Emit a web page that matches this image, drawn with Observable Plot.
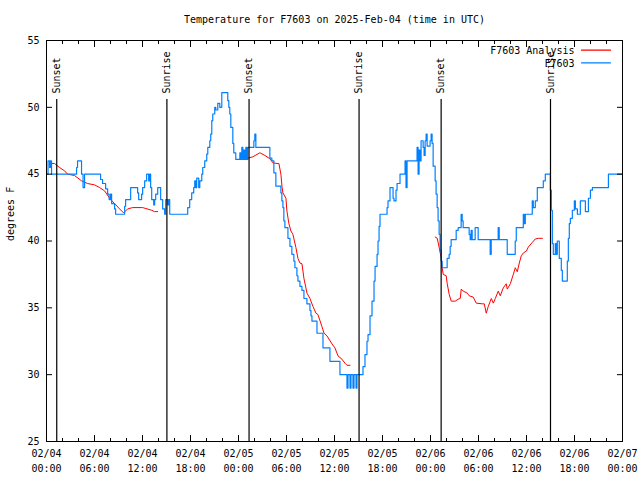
<!DOCTYPE html>
<html>
<head>
<meta charset="utf-8">
<script src="https://cdn.jsdelivr.net/npm/d3@7"></script>
<script src="https://cdn.jsdelivr.net/npm/@observablehq/plot@0.6"></script>
<style>
  body { margin: 0; background: #fff; }
  svg { display: block; }
</style>
</head>
<body>
<div id="chart"></div>
<script>
// ---- Text ----
const title = "Temperature for F7603 on 2025-Feb-04 (time in UTC)";
const yLabel = "degrees F";
const legendLabels = ["F7603 Analysis", "F7603"];
const seriesColors = ["#ff0000", "#0080ff"];

// ---- Time base (hours since 2025-02-04 00:00 UTC) ----
const startUTC = Date.UTC(2025, 1, 4);
const spanHours = 72;

// ---- Sunset / sunrise markers ----
const sunHours = [1.28, 15.05, 25.32, 39.07, 49.33, 63.0];
const sunLabels = ["Sunset", "Sunrise", "Sunset", "Sunrise", "Sunset", "Sunrise"];

// ---- Y ticks ----
const yTicks = [25, 30, 35, 40, 45, 50, 55];

// ---- Observations F7603: [hour, temp F] (held until next reading) ----
const obsReadings = [
  [0, 45.0], [0.19, 46.0], [0.38, 45.5], [0.50, 46.0], [0.63, 45.0], [3.76, 45.5], [3.88, 46.0],
  [4.38, 45.0], [4.57, 44.0], [4.76, 45.0], [6.76, 44.6], [7.01, 44.3], [7.39, 43.9], [7.64, 43.5],
  [7.83, 43.1], [8.01, 43.5], [8.14, 42.8], [8.51, 42.4], [8.64, 42.0], [9.77, 42.6], [9.89, 43.1],
  [10.52, 44.0], [11.39, 43.6], [11.52, 43.1], [11.89, 43.5], [12.02, 44.0], [12.27, 44.5], [12.52, 45.0],
  [12.77, 44.5], [12.90, 45.0], [13.02, 44.0], [13.15, 43.1], [13.40, 42.7], [13.52, 43.1], [13.65, 43.5],
  [13.90, 44.0], [14.27, 43.1], [14.52, 42.4], [14.77, 42.0], [14.90, 43.1], [15.15, 42.7], [15.27, 43.1],
  [15.40, 42.0], [17.65, 42.5], [17.90, 43.1], [18.15, 43.6], [18.40, 44.0], [18.53, 44.5], [18.65, 44.0],
  [18.78, 44.7], [19.03, 44.0], [19.16, 44.5], [19.41, 45.0], [19.53, 45.5], [19.78, 46.0], [20.03, 46.5],
  [20.16, 47.0], [20.41, 47.5], [20.53, 48.0], [20.66, 49.0], [20.78, 49.5], [21.03, 50.0], [21.16, 49.8],
  [21.41, 50.3], [21.66, 50.0], [21.91, 51.1], [22.66, 50.5], [22.79, 50.0], [22.91, 49.5], [23.04, 48.5],
  [23.29, 47.3], [23.41, 46.6], [23.66, 46.1], [24.17, 46.6], [24.29, 46.1], [24.42, 47.0], [24.54, 46.1],
  [24.67, 46.8], [24.79, 46.1], [24.92, 47.0], [25.04, 46.1], [25.17, 47.0], [25.92, 47.5], [26.04, 48.0],
  [26.17, 47.0], [27.92, 46.2], [28.17, 46.0], [28.42, 45.1], [28.67, 44.1], [29.30, 43.6], [29.42, 43.0],
  [29.55, 42.5], [29.67, 41.5], [29.80, 41.0], [30.18, 40.2], [30.43, 39.6], [30.67, 39.0], [30.92, 38.5],
  [31.05, 38.0], [31.30, 37.4], [31.43, 37.0], [31.68, 36.6], [31.93, 36.3], [32.18, 35.7], [32.55, 35.3],
  [32.93, 34.8], [33.06, 34.4], [33.18, 34.0], [33.81, 33.1], [34.56, 32.0], [35.43, 31.0], [36.68, 30.0],
  [37.56, 29.0], [37.69, 30.0], [37.94, 29.0], [38.06, 30.0], [38.31, 29.0], [38.44, 30.0], [38.69, 29.0],
  [38.81, 30.0], [39.56, 30.6], [39.81, 31.5], [40.06, 32.5], [40.19, 33.0], [40.44, 34.4], [40.69, 35.5],
  [40.94, 37.0], [41.07, 38.1], [41.32, 39.0], [41.44, 40.0], [41.57, 41.1], [41.69, 42.0], [42.57, 42.5],
  [42.69, 43.0], [42.94, 44.0], [43.32, 43.2], [43.44, 43.0], [43.69, 43.8], [43.82, 44.3], [44.19, 45.0],
  [44.82, 46.0], [44.94, 44.0], [45.07, 46.0], [46.32, 47.0], [46.45, 45.0], [46.57, 46.8], [46.70, 46.0],
  [46.82, 47.5], [47.08, 47.0], [47.20, 46.4], [47.33, 47.5], [47.45, 48.0], [47.58, 47.1], [47.95, 47.5],
  [48.08, 48.0], [48.20, 47.3], [48.33, 45.6], [48.58, 44.5], [48.70, 43.5], [48.83, 42.5], [48.95, 41.5],
  [49.08, 40.5], [49.20, 39.3], [49.33, 38.5], [49.45, 38.0], [50.08, 38.7], [50.33, 39.0], [50.46, 39.6],
  [50.58, 40.1], [51.21, 40.8], [51.46, 41.0], [51.83, 42.0], [51.96, 41.5], [52.08, 41.0], [52.83, 40.5],
  [52.96, 40.1], [53.08, 40.8], [53.21, 40.1], [53.58, 41.0], [53.96, 40.1], [55.46, 39.0], [55.59, 40.1],
  [56.46, 41.0], [56.59, 40.1], [57.59, 39.0], [58.59, 40.0], [58.72, 41.0], [59.60, 42.0], [59.72, 41.3],
  [59.85, 42.0], [60.72, 43.0], [60.85, 42.5], [61.10, 43.0], [61.35, 44.0], [62.10, 44.5], [62.35, 45.0],
  [62.98, 43.8], [63.10, 42.3], [63.23, 39.8], [63.35, 39.0], [63.60, 39.8], [63.73, 39.0], [63.85, 40.0],
  [64.10, 38.7], [64.35, 37.8], [64.48, 37.0], [65.10, 38.5], [65.23, 40.2], [65.35, 41.3], [65.48, 41.7],
  [65.73, 42.3], [65.98, 43.0], [66.11, 42.4], [66.36, 42.0], [66.73, 43.0], [67.36, 42.2], [67.74, 43.2],
  [67.99, 43.8], [68.24, 44.0], [70.24, 45.0], [72.00, 45.0]
];

// ---- F7603 Analysis: three runs (hours, temps) ----
const ana1Hours = [0.63, 1.0, 1.63, 2.25, 2.63, 3.5, 4.38, 5.13, 6.0, 6.64, 7.26, 7.89, 8.5, 9.14, 9.64, 10.14, 10.77, 12.02, 13.15, 13.5, 13.9];
const ana1Temps = [45.8, 45.8, 45.5, 45.25, 45.0, 44.9, 44.5, 44.3, 44.2, 44.0, 43.75, 43.2, 42.8, 42.4, 42.1, 42.4, 42.5, 42.5, 42.3, 42.2, 42.2];
const ana2Hours = [24.79, 25.17, 25.8, 26.67, 27.3, 27.92, 28.3, 28.8, 29.05, 29.3, 29.43, 29.55, 29.93, 30.05, 30.3, 30.55, 30.8, 31.18, 31.43, 31.68, 31.93, 32.18, 32.56, 32.93, 33.31, 33.68, 33.93, 34.43, 34.69, 35.06, 35.69, 36.06, 36.44, 36.94, 37.32, 37.57, 37.94];
const ana2Temps = [46.1, 46.2, 46.3, 46.6, 46.4, 46.15, 45.85, 45.8, 45.8, 45.0, 44.1, 43.6, 43.2, 42.25, 41.3, 40.75, 40.5, 39.5, 38.7, 38.35, 38.3, 37.2, 36.1, 35.7, 35.1, 34.6, 34.5, 33.6, 33.1, 32.9, 32.3, 32.0, 31.4, 31.15, 30.85, 30.7, 30.7];
const ana3Hours = [48.59, 48.84, 49.09, 49.34, 49.46, 49.59, 49.96, 50.09, 50.34, 50.59, 51.09, 51.47, 51.72, 51.84, 52.09, 52.59, 52.84, 53.34, 53.72, 54.47, 54.72, 54.97, 55.22, 55.6, 55.85, 56.1, 56.47, 56.72, 57.1, 57.47, 57.6, 57.98, 58.35, 58.6, 58.85, 59.1, 59.35, 59.6, 59.98, 60.23, 60.73, 61.1, 61.48, 61.98];
const ana3Temps = [40.3, 40.2, 39.5, 38.7, 38.0, 37.5, 37.4, 36.8, 36.0, 35.5, 35.5, 35.65, 35.7, 36.4, 36.25, 36.1, 35.9, 35.8, 35.35, 35.3, 35.3, 34.6, 35.1, 35.7, 35.35, 35.7, 36.25, 35.9, 36.5, 36.8, 36.4, 36.8, 37.5, 38.0, 37.7, 38.35, 38.9, 39.1, 39.25, 39.55, 39.9, 40.15, 40.2, 40.2];

// ---- Build tables ----
const toDate = h => new Date(startUTC + h * 3600e3);
const obs = obsReadings.map(([h, t]) => ({time: toDate(h), temp: t}));
const anaRuns = [[ana1Hours, ana1Temps], [ana2Hours, ana2Temps], [ana3Hours, ana3Temps]];
const ana = anaRuns.flatMap(([hs, ts], r) => hs.map((h, i) => ({time: toDate(h), temp: ts[i], run: r})));
const sun = sunHours.map((h, i) => ({time: toDate(h), label: sunLabels[i]}));
const majorTicks = d3.utcHour.every(6).range(toDate(0), toDate(spanHours + 1));
const minorTicks = d3.utcHour.every(2).range(toDate(0), toDate(spanHours + 1));
const fmt = d3.utcFormat("%m/%d\n%H:%M");
const lineShape = {draw(context, l) { context.moveTo(0, 0); context.lineTo(0, -l); }};

const chart = Plot.plot({
  width: 640,
  height: 480,
  marginLeft: 46,
  marginRight: 18,
  marginTop: 40,
  marginBottom: 39,
  style: {fontFamily: "'DejaVu Sans Mono', monospace", fontSize: "10px", color: "black", background: "white"},
  x: {type: "utc", domain: [toDate(0), toDate(spanHours)], label: null},
  y: {domain: [25, 55], label: null},
  marks: [
    Plot.line(ana, {x: "time", y: "temp", z: "run", stroke: seriesColors[0], strokeWidth: 1}),
    Plot.line(obs, {x: "time", y: "temp", curve: "step-after", stroke: seriesColors[1], strokeWidth: 1.2}),
    Plot.ruleX(sun, {x: "time", insetTop: 59, stroke: "black", strokeWidth: 1.2}),
    Plot.text(sun, {x: "time", text: "label", frameAnchor: "top", dy: 53, rotate: -90, textAnchor: "start", lineAnchor: "middle", fill: "black"}),
    Plot.frame({stroke: "black"}),
    Plot.axisX({anchor: "bottom", ticks: majorTicks, tickSize: -6, tickPadding: 11.5, tickFormat: fmt, lineHeight: 1.45, label: null, stroke: "black", fill: "black"}),
    Plot.axisX({anchor: "bottom", ticks: minorTicks, tickSize: -3, fill: "none", stroke: "black", label: null}),
    Plot.axisX({anchor: "top", ticks: majorTicks, tickSize: -6, fill: "none", stroke: "black", label: null}),
    Plot.axisX({anchor: "top", ticks: minorTicks, tickSize: -3, fill: "none", stroke: "black", label: null}),
    Plot.axisY({anchor: "left", ticks: yTicks, tickSize: -6, tickPadding: 13, label: null, stroke: "black", fill: "black"}),
    Plot.axisY({anchor: "right", ticks: yTicks, tickSize: -6, fill: "none", stroke: "black", label: null}),
    Plot.text([title], {frameAnchor: "top", dy: -24.5, fill: "black"}),
    Plot.text([yLabel], {frameAnchor: "left", dx: -36, rotate: -90, fill: "black"}),
    Plot.text([legendLabels[0]], {frameAnchor: "top-right", dx: -48, dy: 6.5, textAnchor: "end", fill: "black"}),
    Plot.text([legendLabels[1]], {frameAnchor: "top-right", dx: -48, dy: 19.5, textAnchor: "end", fill: "black"}),
    Plot.vector([legendLabels[0]], {frameAnchor: "top-right", dx: -41, dy: 9.7, rotate: 90, length: 29, anchor: "start", shape: lineShape, stroke: seriesColors[0], strokeWidth: 1.2}),
    Plot.vector([legendLabels[1]], {frameAnchor: "top-right", dx: -41, dy: 22.3, rotate: 90, length: 29, anchor: "start", shape: lineShape, stroke: seriesColors[1], strokeWidth: 1.2})
  ]
});
document.getElementById("chart").appendChild(chart);
</script>
</body>
</html>
